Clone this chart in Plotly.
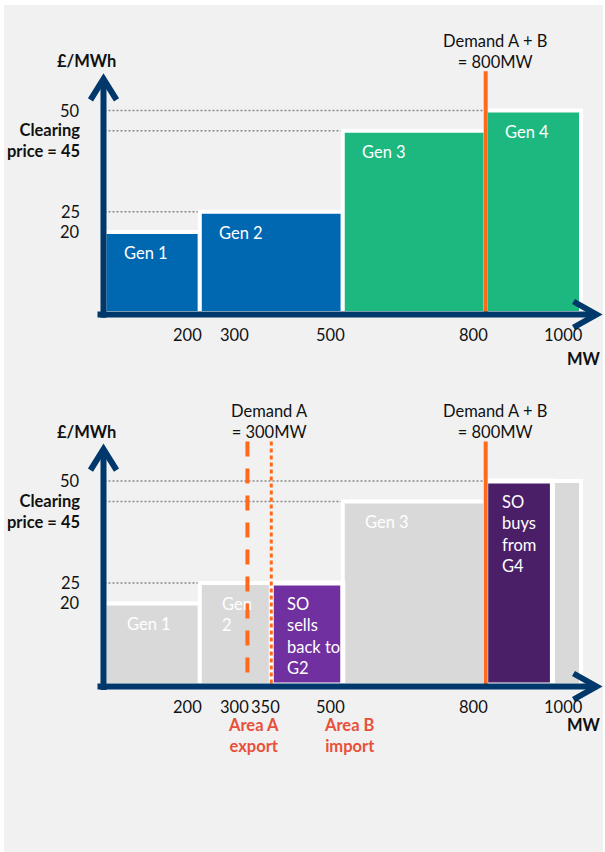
import plotly.graph_objects as go

W, H = 605, 852

# ---------------- data ----------------
gen_names = ["Gen 1", "Gen 2", "Gen 3", "Gen 4"]
gen_start_mw = [0, 200, 500, 800]
gen_end_mw = [200, 500, 800, 1000]
gen_price = [20, 25, 45, 50]
bottom_gen_labels = ["Gen 1", "Gen<br>2", "Gen 3", ""]
clearing_price = 45
price_ref_lines = [50, 45, 25]
y_tick_vals = [50, 25, 20]
y_tick_text = ["50", "25", "20"]
x_tick_vals_top = [200, 300, 500, 800, 1000]
x_tick_vals_bottom = [200, 300, 350, 500, 800, 1000]
demand_total_mw = 800
demand_a_mw = 300
area_a_limit_mw = 350
area_b_label_mw = 500
so_labels = ["SO<br>sells<br>back to<br>G2", "SO<br>buys<br>from<br>G4"]
so_start_mw = [350, 800]
so_end_mw = [500, 940]
so_price = [25, 50]

# ---------------- styles / layout constants ----------------
FONT = "Lato"
FS = 16.5
NAVY = "#00386B"
ORANGE = "#FF6A1A"
RED = "#E8503A"
BLUE = "#0067B1"
GREEN = "#1DB87F"
GREY_BAR = "#D9D9D9"
SO_COLORS = ["#7030A0", "#4B1F68"]
BG = "#F1F1F1"

PX_X0 = 104.5          # pixel of 0 MW
S_X = 0.4765           # px per MW
SPLIT = 380            # pixel row separating the two panels
PX_Y0 = {"top": 313, "bot": 685}
S_Y = {"top": 4.05, "bot": 4.08}
Y_TIP = 57.8           # arrow tip level (price units)
LINE_TOP = 59.7        # top of demand lines
X_TIP = (596.5 - PX_X0) / S_X
TICK_EXTRA_SHIFT = {350: 7}   # extra pixel nudge for crowded tick labels

x_range = [-PX_X0 / S_X, (W - PX_X0) / S_X]
dom_split = (H - SPLIT) / H

fig = go.Figure()

# background panel
shapes = [dict(type="rect", xref="paper", yref="paper", x0=4 / W, x1=603 / W,
               y0=0, y1=(H - 5) / H, fillcolor=BG, line=dict(width=0), layer="below")]
annotations = []


def ann(text, xref, yref, x, y, **kw):
    d = dict(text=text, xref=xref, yref=yref, x=x, y=y, showarrow=False,
             font=dict(family=FONT, size=FS, color=kw.pop("color", "#111111")))
    d.update(kw)
    annotations.append(d)


def panel(xa, ya, bottom):
    xr, yr = xa, ya
    # dotted price reference lines (below bars)
    for p in price_ref_lines:
        shapes.append(dict(type="line", xref=xr, yref=yr, x0=0, x1=1000, y0=p, y1=p,
                           line=dict(color="#8A8A8A", width=1.5, dash="2px,2px"), layer="below"))
    mids = [(a + b) / 2 for a, b in zip(gen_start_mw, gen_end_mw)]
    widths = [b - a for a, b in zip(gen_start_mw, gen_end_mw)]
    colors = [GREY_BAR] * 4 if bottom else [BLUE, BLUE, GREEN, GREEN]
    fig.add_trace(go.Bar(x=mids, y=gen_price, width=widths, base=0, xaxis=xa, yaxis=ya,
                         marker=dict(color=colors, line=dict(color="white", width=4)),
                         hoverinfo="skip", showlegend=False))
    labels = bottom_gen_labels if bottom else gen_names
    gx = 20 if bottom else 17
    for lab, s, p in zip(labels, gen_start_mw, gen_price):
        if lab:
            ann(lab, xr, yr, s, p, xanchor="left", yanchor="top", xshift=gx, yshift=-9,
                color="white", align="left")
    if bottom:
        smids = [(a + b) / 2 for a, b in zip(so_start_mw, so_end_mw)]
        swidths = [b - a for a, b in zip(so_start_mw, so_end_mw)]
        fig.add_trace(go.Bar(x=smids, y=so_price, width=swidths, base=0, xaxis=xa, yaxis=ya,
                             marker=dict(color=SO_COLORS, line=dict(color="white", width=5)),
                             hoverinfo="skip", showlegend=False))
        for lab, s, p in zip(so_labels, so_start_mw, so_price):
            ann(lab, xr, yr, s, p, xanchor="left", yanchor="top", xshift=14, yshift=-9,
                color="white", align="left")
        # Demand A dashed line and area-A limit dotted line
        shapes.append(dict(type="line", xref=xr, yref=yr, x0=demand_a_mw, x1=demand_a_mw,
                           y0=LINE_TOP, y1=0, line=dict(color=ORANGE, width=4, dash="15px,12px")))
        shapes.append(dict(type="line", xref=xr, yref=yr, x0=area_a_limit_mw, x1=area_a_limit_mw,
                           y0=LINE_TOP, y1=0, line=dict(color=ORANGE, width=3, dash="4px,3px")))
        ann("Demand A<br>= 300MW", xr, yr, demand_a_mw, LINE_TOP, xanchor="center",
            yanchor="middle", xshift=22, yshift=20)
        ann("<b>Area A<br>export</b>", xr, yr, demand_a_mw, 0, xanchor="center",
            yanchor="middle", xshift=6, yshift=-50, color=RED)
        ann("<b>Area B<br>import</b>", xr, yr, area_b_label_mw, 0, xanchor="center",
            yanchor="middle", xshift=7, yshift=-50, color=RED)
    # total demand line
    shapes.append(dict(type="line", xref=xr, yref=yr, x0=demand_total_mw, x1=demand_total_mw,
                       y0=LINE_TOP, y1=0, line=dict(color=ORANGE, width=4)))
    ann("Demand A + B<br>= 800MW", xr, yr, demand_total_mw, LINE_TOP, xanchor="center",
        yanchor="middle", xshift=9, yshift=20)
    # axes with arrows
    shapes.append(dict(type="line", xref=xr, yref=yr, xsizemode="pixel", xanchor=0,
                       x0=-1, x1=-1, y0=-1.2, y1=Y_TIP, line=dict(color=NAVY, width=6)))
    shapes.append(dict(type="line", xref=xr, yref=yr, ysizemode="pixel", yanchor=0,
                       x0=-7 / S_X, x1=X_TIP, y0=-1.5, y1=-1.5, line=dict(color=NAVY, width=6)))
    shapes.append(dict(type="path", xref=xr, yref=yr, xsizemode="pixel", ysizemode="pixel",
                       xanchor=0, yanchor=Y_TIP, path="M -14,-21 L -1,0 L 12,-21",
                       line=dict(color=NAVY, width=6)))
    shapes.append(dict(type="path", xref=xr, yref=yr, xsizemode="pixel", ysizemode="pixel",
                       xanchor=X_TIP, yanchor=0, path="M -23,11.5 L 0,-1.5 L -23,-14.5",
                       line=dict(color=NAVY, width=6)))
    # axis texts
    ann("<b>£/MWh</b>", xr, yr, 0, Y_TIP, xanchor="center", yanchor="middle",
        xshift=-18, yshift=17.5)
    for v, t in zip(y_tick_vals, y_tick_text):
        ann(t, xr, yr, 0, v, xanchor="right", yanchor="middle", xshift=-23)
    ann("<b>Clearing<br>price = %d</b>" % clearing_price, xr, yr, 0, clearing_price,
        xanchor="right", yanchor="middle", xshift=-23, yshift=-10, align="right")
    ticks = x_tick_vals_bottom if bottom else x_tick_vals_top
    for v in ticks:
        ann(str(v), xr, yr, v, 0, xanchor="right", yanchor="middle",
            xshift=4 + (TICK_EXTRA_SHIFT.get(v, 0) if bottom else 0), yshift=-22)
    ann("<b>MW</b>", xr, yr, X_TIP, 0, xanchor="right", yanchor="middle",
        xshift=6.5, yshift=-40 if bottom else -46)


panel("x", "y", False)
panel("x2", "y2", True)

ax_common = dict(visible=False, fixedrange=True, showgrid=False, zeroline=False)
fig.update_layout(
    width=W, height=H, margin=dict(l=0, r=0, t=0, b=0),
    paper_bgcolor="white", plot_bgcolor="rgba(0,0,0,0)",
    barmode="overlay", showlegend=False,
    xaxis=dict(domain=[0, 1], range=x_range, anchor="y", **ax_common),
    yaxis=dict(domain=[dom_split, 1], anchor="x",
               range=[-(SPLIT - PX_Y0["top"]) / S_Y["top"], PX_Y0["top"] / S_Y["top"]], **ax_common),
    xaxis2=dict(domain=[0, 1], range=x_range, anchor="y2", **ax_common),
    yaxis2=dict(domain=[0, dom_split], anchor="x2",
                range=[-(H - PX_Y0["bot"]) / S_Y["bot"], (PX_Y0["bot"] - SPLIT) / S_Y["bot"]], **ax_common),
    shapes=shapes, annotations=annotations,
    font=dict(family=FONT, size=FS),
)

fig.write_html("out.html")
